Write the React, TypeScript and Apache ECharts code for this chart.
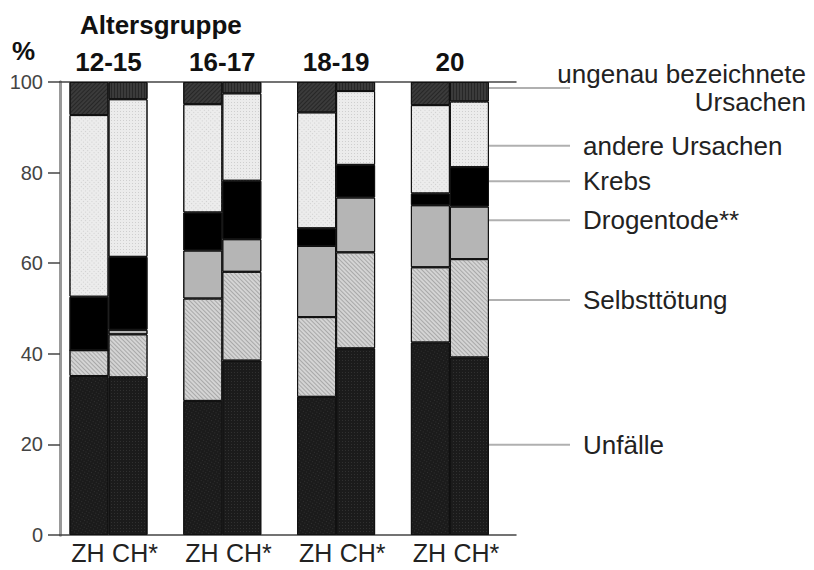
import React, { useEffect, useRef } from "react";
import * as echarts from "echarts";

const categories = ["12-15", "16-17", "18-19", "20"];
const regionLabels = ["ZH", "CH*"];

const unfaelleZH = [35.1, 29.6, 30.5, 42.5];
const unfaelleCH = [34.8, 38.5, 41.2, 39.2];
const selbstZH = [5.7, 22.6, 17.6, 16.6];
const selbstCH = [9.5, 19.6, 21.2, 21.7];
const drogenZH = [0, 10.6, 15.7, 13.7];
const drogenCH = [1.0, 7.2, 12.1, 11.6];
const krebsZH = [11.8, 8.4, 3.9, 2.6];
const krebsCH = [16.1, 12.9, 7.2, 8.7];
const andereZH = [40.1, 23.9, 25.6, 19.5];
const andereCH = [34.8, 19.3, 16.3, 14.5];
const ungenauZH = [7.3, 4.9, 6.7, 5.1];
const ungenauCH = [3.8, 2.5, 2.0, 4.3];

const yTicks = [0, 20, 40, 60, 80, 100];

const causeNames = [
  "Unfälle",
  "Selbsttötung",
  "Drogentode**",
  "Krebs",
  "andere Ursachen",
  "ungenau bezeichnete\nUrsachen",
];
// value (in %) at which each label's leader line meets the chart
const labelAnchors = [19.9, 51.9, 69.5, 78.1, 85.9, 98.7];

const FONT = "'Liberation Sans', Arial, Helvetica, sans-serif";

export default function App() {
  const ref = useRef<HTMLDivElement>(null);

  useEffect(() => {
    if (!ref.current) return;
    const chart = echarts.init(ref.current, undefined, { renderer: "svg" });

    const styles = [
      {
        color: "#1b1b1b",
        decal: { symbol: "rect", symbolSize: 1, dashArrayX: [1, 2], dashArrayY: [1, 2], color: "rgba(70,70,70,0.5)" },
      },
      {
        color: "#d4d4d4",
        decal: { symbol: "rect", symbolSize: 1, dashArrayX: [1, 0], dashArrayY: [1, 2], rotation: Math.PI / 4, color: "rgba(150,150,150,0.7)" },
      },
      { color: "#b5b5b5", decal: { symbol: "rect", symbolSize: 1, dashArrayX: [1, 0], dashArrayY: [1, 0], color: "rgba(0,0,0,0)" } },
      { color: "#000000", decal: { symbol: "rect", symbolSize: 1, dashArrayX: [1, 0], dashArrayY: [1, 0], color: "rgba(0,0,0,0)" } },
      {
        color: "#ececec",
        decal: { symbol: "rect", symbolSize: 1, dashArrayX: [1, 2], dashArrayY: [1, 2], color: "rgba(200,200,200,0.8)" },
      },
      {
        color: "#3b3b3b",
        decal: { symbol: "rect", symbolSize: 1, dashArrayX: [1, 2], dashArrayY: [1, 0], color: "rgba(30,30,30,0.7)" },
      },
    ];

    const dataZH = [unfaelleZH, selbstZH, drogenZH, krebsZH, andereZH, ungenauZH];
    const dataCH = [unfaelleCH, selbstCH, drogenCH, krebsCH, andereCH, ungenauCH];

    const series: any[] = [];
    causeNames.forEach((name, i) => {
      [dataZH[i], dataCH[i]].forEach((d, j) => {
        series.push({
          name: name.replace("\n", " ") + (j === 0 ? " ZH" : " CH"),
          type: "bar",
          stack: j === 0 ? "ZH" : "CH",
          xAxisIndex: 1,
          yAxisIndex: 2,
          barWidth: 39,
          barGap: "0%",
          data: d,
          itemStyle: {
            color: styles[i].color,
            decal: styles[i].decal,
            borderColor: "#111",
            borderWidth: 1,
          },
          label:
            i === 0
              ? {
                  show: true,
                  position: "bottom",
                  distance: 5,
                  offset: j === 0 ? [-1, 0] : [7, 0],
                  formatter: () => regionLabels[j],
                  fontFamily: FONT,
                  fontSize: 25,
                  color: "#222",
                }
              : { show: false },
          emphasis: { disabled: true },
        });
      });
    });

    const option: any = {
      animation: false,
      backgroundColor: "#ffffff",
      aria: { enabled: true, decal: { show: true } },
      grid: [
        { left: 60, top: 82, width: 456, height: 453 },
        { left: 51.6, top: 82, width: 455.2, height: 453 },
      ],
      xAxis: [
        {
          gridIndex: 0,
          type: "value",
          position: "bottom",
          min: 0,
          max: 1,
          axisLine: { show: true, onZero: false, lineStyle: { color: "#444", width: 1.5 } },
          axisTick: { show: false },
          axisLabel: { show: false },
          splitLine: { show: false },
        },
        {
          gridIndex: 1,
          type: "category",
          position: "top",
          data: categories,
          axisLine: { show: false },
          axisTick: { show: false },
          axisLabel: {
            fontFamily: FONT,
            fontSize: 26,
            fontWeight: "bold",
            color: "#111",
            margin: 7,
          },
        },
        {
          gridIndex: 0,
          type: "value",
          position: "top",
          min: 0,
          max: 1,
          axisLine: { show: true, onZero: false, lineStyle: { color: "#444", width: 1.5 } },
          axisTick: { show: false },
          axisLabel: { show: false },
          splitLine: { show: false },
        },
      ],
      yAxis: [
        {
          gridIndex: 0,
          type: "value",
          min: 0,
          max: 100,
          interval: 20,
          position: "left",
          axisLine: { show: true, lineStyle: { color: "#999", width: 3 } },
          axisTick: { show: true, length: 12, lineStyle: { color: "#444", width: 1.5 } },
          axisLabel: {
            fontFamily: FONT,
            fontSize: 20,
            color: "#444",
            margin: 17,
            formatter: (v: number) => (yTicks.includes(v) ? String(v) : ""),
          },
          splitLine: { show: false },
        },
        {
          gridIndex: 0,
          type: "value",
          min: 0,
          max: 100,
          position: "right",
          axisLine: { show: true, lineStyle: { color: "#999", width: 3 } },
          axisTick: { show: false },
          axisLabel: { show: false },
          splitLine: { show: false },
        },
        {
          gridIndex: 1,
          type: "value",
          min: 0,
          max: 100,
          show: false,
        },
      ],
      series,
    };

    chart.setOption(option);

    const graphics: any[] = [
      {
        type: "text",
        left: 80,
        top: 12,
        style: { text: "Altersgruppe", font: `bold 26px ${FONT}`, fill: "#111" },
      },
      {
        type: "text",
        left: 12,
        top: 38,
        style: { text: "%", font: `bold 26px ${FONT}`, fill: "#111" },
      },
    ];
    labelAnchors.forEach((v, i) => {
      const y = chart.convertToPixel({ yAxisIndex: 2 }, v) as number;
      graphics.push({
        type: "line",
        z: 1,
        shape: { x1: 489, y1: y, x2: 570, y2: y },
        style: { stroke: "#b0b0b0", lineWidth: 2 },
      });
      const lines = causeNames[i].split("\n");
      if (lines.length > 1) {
        lines.forEach((t, k) => {
          graphics.push({
            type: "text",
            x: 806,
            y: y + (k === 0 ? -14 : 14),
            style: {
              text: t,
              font: `26px ${FONT}`,
              fill: "#222",
              textAlign: "right",
              textVerticalAlign: "middle",
            },
          });
        });
      } else {
        graphics.push({
          type: "text",
          x: 583,
          y: y,
          style: {
            text: lines[0],
            font: `26px ${FONT}`,
            fill: "#222",
            textAlign: "left",
            textVerticalAlign: "middle",
          },
        });
      }
    });
    chart.setOption({ graphic: graphics });

    return () => chart.dispose();
  }, []);

  return (
    <div
      ref={ref}
      style={{ position: "fixed", left: 0, top: 0, width: 814, height: 570 }}
    />
  );
}
